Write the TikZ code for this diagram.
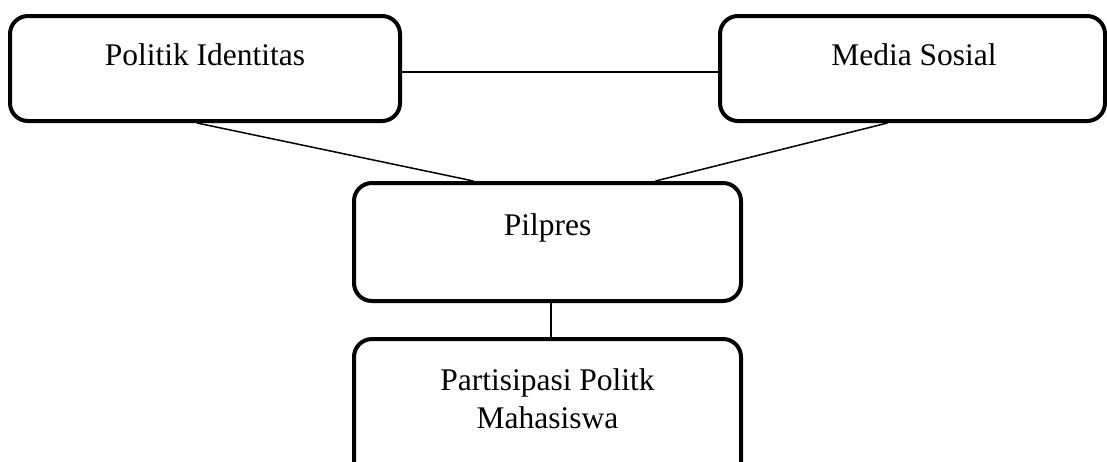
\documentclass[tikz,border=0pt]{standalone}
\usepackage{fontspec}
\setmainfont{Liberation Serif}
\tikzset{
  box/.style={draw=black, line width=4pt, rounded corners=18pt, fill=white, inner sep=0pt},
  lbl/.style={font=\fontsize{31.5}{38}\selectfont, align=center, inner sep=0pt},
  link/.style={draw=black, line width=1.5pt}
}
\begin{document}
\begin{tikzpicture}[x=1pt,y=-1pt]
\useasboundingbox (0,0) rectangle (1107,461);
\begin{scope}
\clip (0,0) rectangle (1107,461);
\node[box, minimum width=390pt, minimum height=105pt] (b1) at (205,68.5) {};
\node[box, minimum width=385pt, minimum height=105pt] (b2) at (912.5,68.5) {};
\node[box, minimum width=387pt, minimum height=118pt] (b3) at (547.5,242) {};
\node[box, minimum width=387pt, minimum height=141pt] (b4) at (547.5,409.5) {};
\end{scope}
\node[lbl] (t1) at (205,55) {Politik Identitas};
\node[lbl] (t2) at (914,55) {Media Sosial};
\node[lbl] (t3) at (547.5,228) {Pilpres};
\node[lbl] (t4) at (547.5,399) {Partisipasi Politk\\Mahasiswa};
\draw[link] ([yshift=-3.5pt]b1.east) -- ([yshift=-3.5pt]b2.west);
\draw[link] ([xshift=-8pt]b1.south) -- ([xshift=-74pt]b3.north);
\draw[link] ([xshift=-25pt]b2.south) -- ([xshift=108pt]b3.north);
\draw[link] ([xshift=3.5pt]b3.south) -- ([xshift=3.5pt]b4.north);
\end{tikzpicture}
\end{document}
